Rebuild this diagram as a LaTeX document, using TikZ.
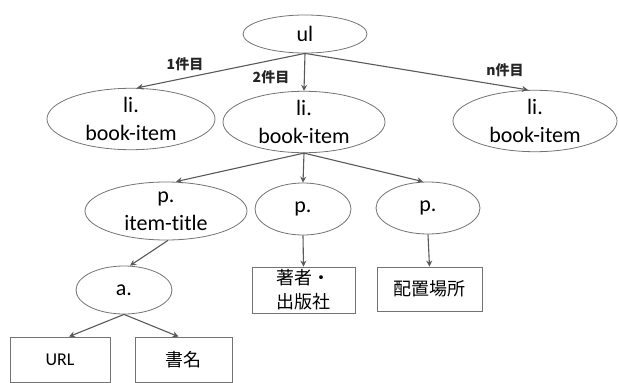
\documentclass[tikz,border=0pt]{standalone}
\usepackage{fontspec}
\setmainfont[Ligatures=NoCommon]{Carlito}
\newfontfamily\cjk{Noto Sans CJK JP}
\usetikzlibrary{shapes.geometric,arrows.meta}
\tikzset{
  el/.style={ellipse,draw=black!55,line width=0.8pt,inner sep=0pt,align=center,
    font=\fontsize{22}{28}\selectfont},
  bx/.style={rectangle,draw=black!55,line width=0.8pt,inner sep=0pt,align=center,
    font=\cjk\fontsize{18}{24}\selectfont},
  arr/.style={draw=black!65,line width=1.1pt,-{Stealth[length=6pt,width=6pt]}},
  lbl/.style={font=\cjk\bfseries\fontsize{14}{16}\selectfont,text=black!85}
}
\begin{document}
\begin{tikzpicture}[x=1pt,y=-1pt]
\useasboundingbox (0,0) rectangle (619,383);
\node[el,minimum width=124pt,minimum height=38pt] (ul) at (305,34) {ul};
\node[el,minimum width=168pt,minimum height=60pt] (li1) at (131,119) {li.\\book-item};
\node[el,minimum width=162pt,minimum height=58pt] (li2) at (304,122) {li.\\book-item};
\node[el,minimum width=164pt,minimum height=58pt] (li3) at (535,121) {li.\\book-item};
\node[el,minimum width=162pt,minimum height=58pt] (p1) at (166,211) {p.\\item-title};
\node[el,minimum width=96pt,minimum height=52pt] (p2) at (303,209) {p.};
\node[el,minimum width=104pt,minimum height=52pt] (p3) at (428,208) {p.};
\node[el,minimum width=96pt,minimum height=48pt] (a) at (124,290) {a.};
\node[bx,minimum width=103pt,minimum height=46pt] (auth) at (303.5,290) {著者・\\出版社};
\node[bx,minimum width=105pt,minimum height=44pt] (place) at (429.5,289) {配置場所};
\node[bx,minimum width=100pt,minimum height=45pt,font=\fontsize{18}{22}\selectfont] (url) at (60,359.5) {URL};
\node[bx,minimum width=97pt,minimum height=45pt] (title) at (183.5,359.5) {書名};
\draw[arr] (ul.south) -- ([xshift=6pt]li1.north);
\draw[arr] (ul.south) -- (li2.north);
\draw[arr] (ul.south) -- ([xshift=-7pt]li3.north);
\draw[arr] (li2.south) -- ([xshift=10pt]p1.north);
\draw[arr] (li2.south) -- (p2.north);
\draw[arr] (li2.south) -- ([xshift=-5pt]p3.north);
\draw[arr] ([xshift=2pt]p1.south) -- ([xshift=6pt]a.north);
\draw[arr] (p2.south) -- (auth.north);
\draw[arr] (p3.south) -- (place.north);
\draw[arr] (a.south) -- ([xshift=9pt]url.north);
\draw[arr] (a.south) -- ([xshift=-5pt]title.north);
\node[lbl] (l1) at (185,64) {1件目};
\node[lbl] (l2) at (271,77) {2件目};
\node[lbl] (l3) at (505,70) {n件目};
\end{tikzpicture}
\end{document}
